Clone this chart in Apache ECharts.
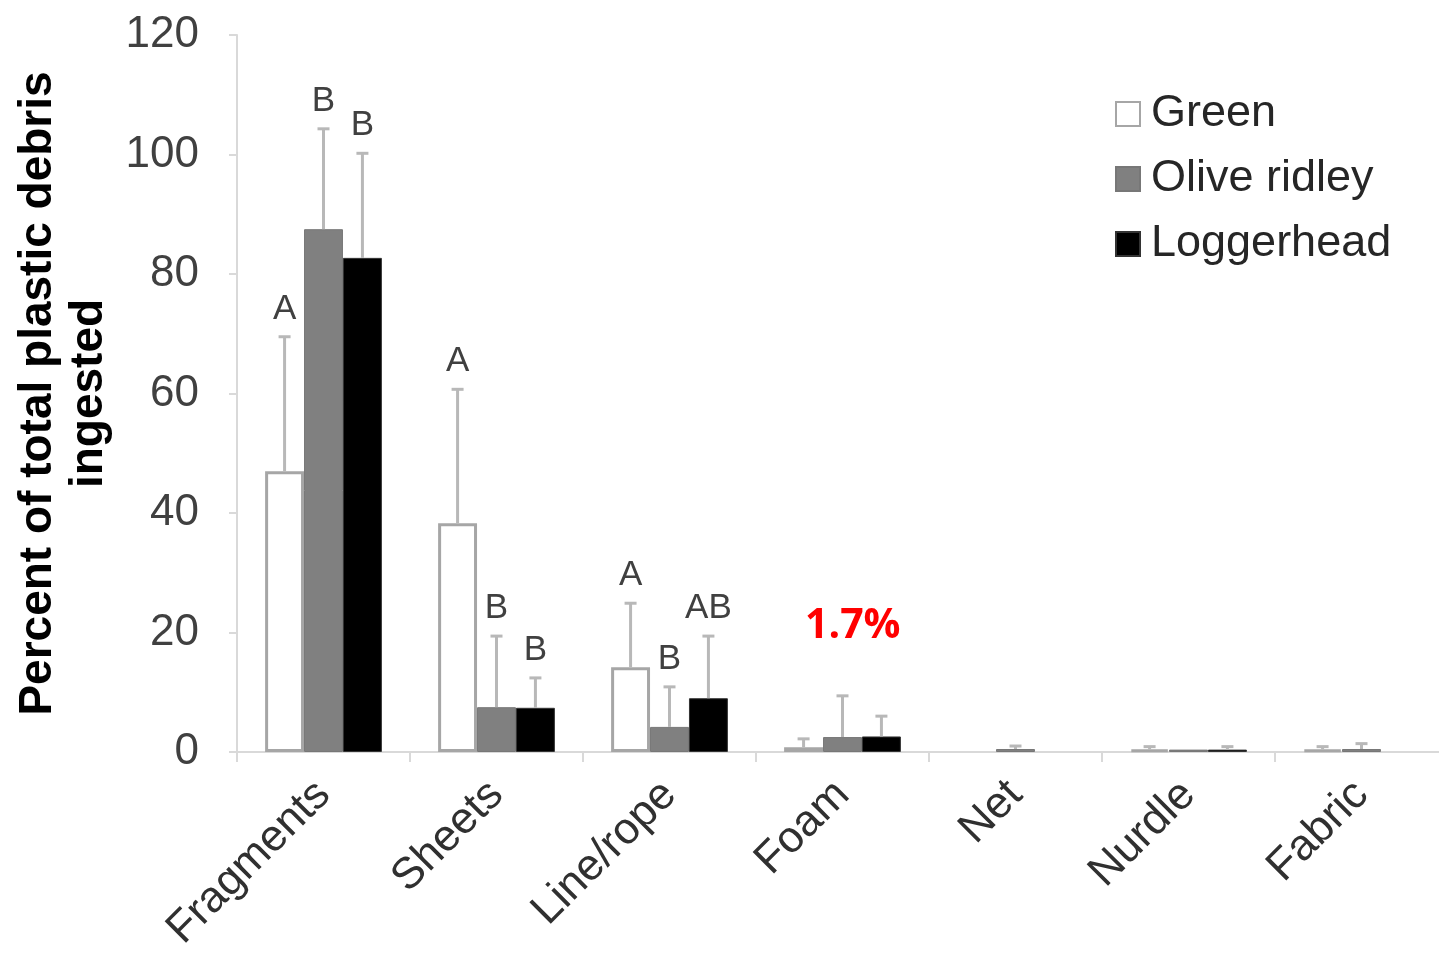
<!DOCTYPE html>
<html>
<head>
<meta charset="utf-8">
<script src="https://cdn.jsdelivr.net/npm/echarts@6/dist/echarts.min.js"></script>
<style>
html,body{margin:0;padding:0;background:#fff;overflow:hidden;}
#chart{width:1448px;height:959px;}
</style>
</head>
<body>
<div id="chart"></div>
<script>
// ---- data ----
var categories = ['Fragments', 'Sheets', 'Line/rope', 'Foam', 'Net', 'Nurdle', 'Fabric'];
var seriesNames = ['Green', 'Olive ridley', 'Loggerhead'];
var green  = [47.0, 38.3, 14.2, 0.8, null, 0.4, 0.4];
var olive  = [87.5, 7.5, 4.2, 2.5, 0.5, 0.4, 0.5];
var logger = [82.7, 7.4, 9.0, 2.6, null, 0.4, null];
// upper end of error bars (mean + SD)
var greenErrTop  = [69.5, 60.7, 24.9, 2.2, null, 0.9, 0.9];
var oliveErrTop  = [104.3, 19.4, 10.9, 9.4, 1.0, null, 1.4];
var loggerErrTop = [100.2, 12.4, 19.4, 6.0, null, 0.9, null];
// significance letters
var greenLetters  = ['A', 'A', 'A', '', '', '', ''];
var oliveLetters  = ['B', 'B', 'B', '', '', '', ''];
var loggerLetters = ['B', 'B', 'AB', '', '', '', ''];
var yTicks = [0, 20, 40, 60, 80, 100, 120];
var annotation = '1.7%';

var values = [green, olive, logger];
var errTops = [greenErrTop, oliveErrTop, loggerErrTop];
var letters = [greenLetters, oliveLetters, loggerLetters];

var FONT = '"Liberation Sans", Arial, sans-serif';
var BAR_FRAC = 0.225;

var chart = echarts.init(document.getElementById('chart'), null, {renderer: 'canvas'});

function errSeries(k) {
  var data = [];
  for (var i = 0; i < categories.length; i++) {
    if (errTops[k][i] != null) data.push([i, errTops[k][i], values[k][i] || 0, i]);
  }
  return {
    type: 'custom',
    name: 'err' + k,
    silent: true,
    z: 5,
    data: data,
    encode: {x: 0, y: 1},
    renderItem: function (params, api) {
      var ci = api.value(0);
      var top = api.coord([ci, api.value(1)]);
      var base = api.coord([ci, api.value(2)]);
      var band = api.size([1, 0])[0];
      var x = top[0] + (k - 1) * band * BAR_FRAC;
      var capHalf = 6;
      var letter = letters[k][api.value(3)];
      var children = [
        {type: 'line', shape: {x1: x, y1: base[1], x2: x, y2: top[1]},
         style: {stroke: '#b8b8b8', lineWidth: 3}},
        {type: 'line', shape: {x1: x - capHalf, y1: top[1], x2: x + capHalf, y2: top[1]},
         style: {stroke: '#b8b8b8', lineWidth: 3}}
      ];
      if (letter) {
        children.push({type: 'text', x: x, y: top[1] - 10,
          style: {text: letter, fontSize: 35, fontFamily: FONT, fill: '#404040',
                  align: 'center', verticalAlign: 'bottom'}});
      }
      return {type: 'group', children: children};
    }
  };
}

var barStyles = [
  {color: '#ffffff', borderColor: '#a6a6a6', borderWidth: 3},
  {color: '#808080', borderColor: '#777777', borderWidth: 1},
  {color: '#000000', borderColor: '#333333', borderWidth: 1}
];

var series = [];
for (var k = 0; k < 3; k++) {
  series.push({
    type: 'bar',
    name: seriesNames[k],
    data: values[k],
    barWidth: (BAR_FRAC * 100) + '%',
    barGap: '0%',
    itemStyle: barStyles[k],
    z: 2
  });
}
for (var k2 = 0; k2 < 3; k2++) series.push(errSeries(k2));

var option = {
  animation: false,
  backgroundColor: '#ffffff',
  textStyle: {fontFamily: FONT},
  grid: {left: 237, top: 35, bottom: 207, right: 0, containLabel: false},
  legend: {
    data: seriesNames,
    orient: 'vertical',
    left: 1110,
    top: 84,
    itemWidth: 24,
    itemHeight: 24,
    itemGap: 15,
    icon: 'rect',
    textStyle: {fontSize: 45, color: '#262626', fontFamily: FONT, lineHeight: 50, padding: [0, 0, 0, 6]}
  },
  xAxis: {
    type: 'category',
    data: categories,
    axisLine: {lineStyle: {color: '#d9d9d9', width: 2}},
    axisTick: {show: true, length: 10, lineStyle: {color: '#d9d9d9', width: 2}},
    axisLabel: {interval: 0, rotate: 45, fontSize: 44, color: '#303030', fontFamily: FONT, margin: 36}
  },
  yAxis: {
    type: 'value',
    min: yTicks[0],
    max: yTicks[yTicks.length - 1],
    interval: yTicks[1] - yTicks[0],
    name: 'Percent of total plastic debris\ningested',
    nameLocation: 'middle',
    nameGap: 120,
    nameTextStyle: {fontSize: 46, fontWeight: 'bold', color: '#000000', fontFamily: FONT, lineHeight: 51, align: 'center'},
    axisLine: {show: true, lineStyle: {color: '#d9d9d9', width: 2}},
    axisTick: {show: true, length: 8, lineStyle: {color: '#d9d9d9', width: 2}},
    splitLine: {show: false},
    axisLabel: {fontSize: 44, color: '#404040', fontFamily: FONT, margin: 38}
  },
  graphic: [{
    type: 'text',
    left: 805,
    top: 606,
    style: {text: annotation, fontSize: 41, fontWeight: 'bold', fill: '#ff0000', fontFamily: '"Open Sans", "Liberation Sans", sans-serif'}
  }],
  series: series
};
chart.setOption(option);
</script>
</body>
</html>
